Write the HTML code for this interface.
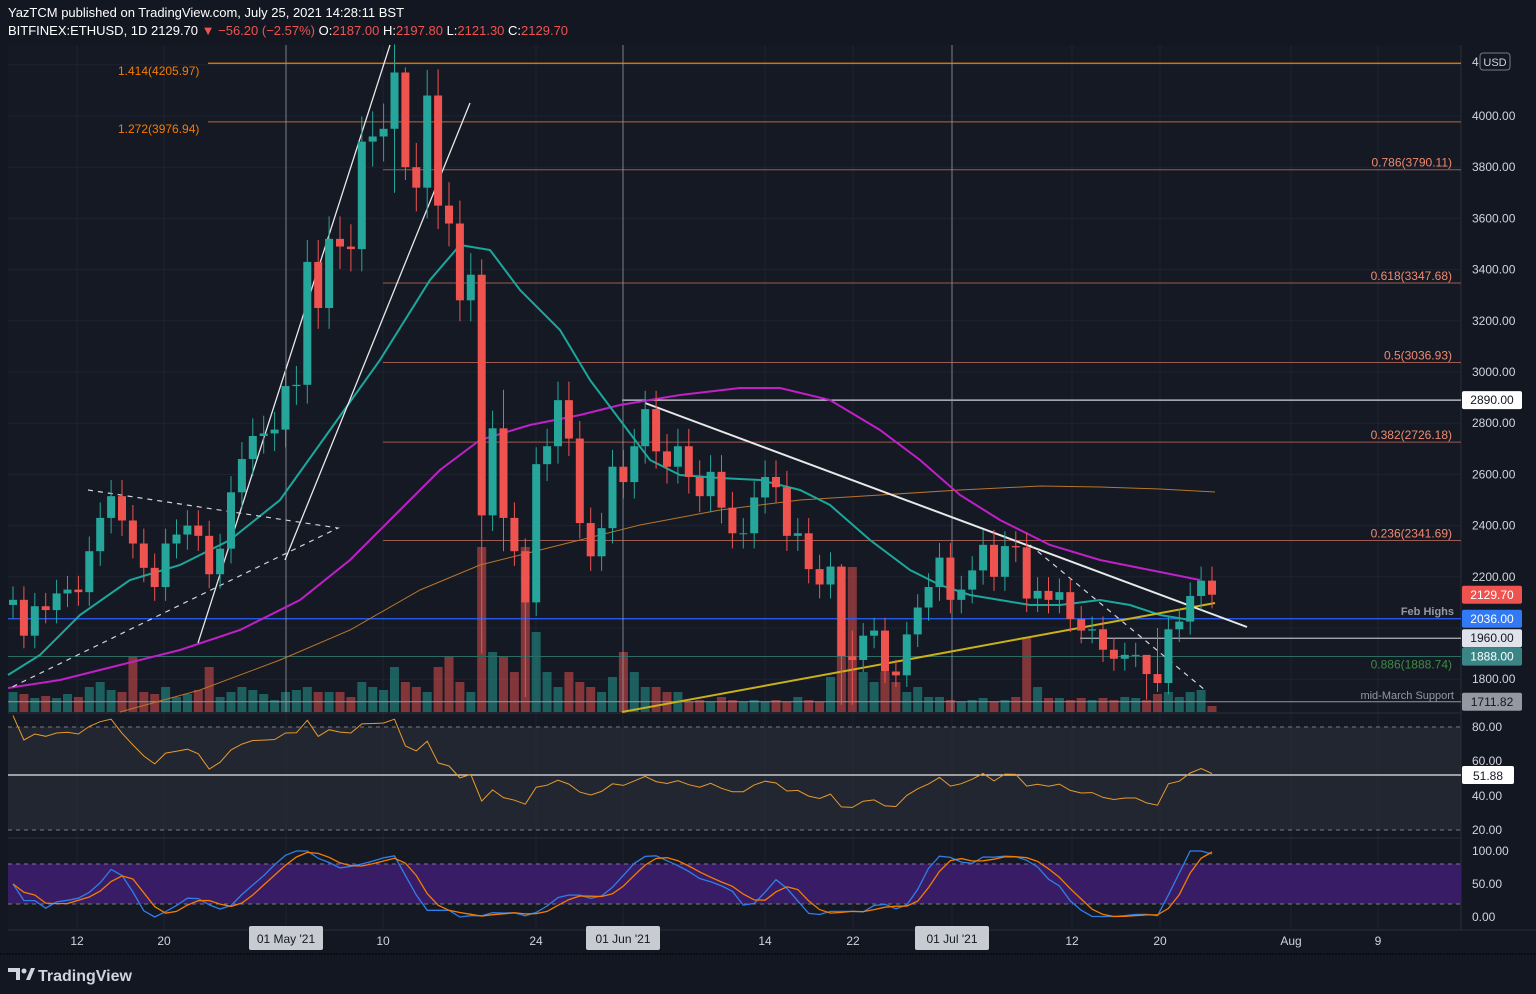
<!DOCTYPE html>
<html><head><meta charset="utf-8">
<style>
html,body{margin:0;padding:0;background:#131722;width:1536px;height:994px;overflow:hidden}
svg{display:block;font-family:"Liberation Sans",sans-serif}
</style></head><body>
<svg id="s" width="1536" height="994" xmlns="http://www.w3.org/2000/svg"></svg>
<script>
const S=document.getElementById('s');let h='';
const add=t=>h+=t;
const py=p=>116+(4000-p)*0.256;
const xd=d=>13+d*10.9;
// background
add('<rect width="1536" height="994" fill="#131722"/>');
add('<rect x="0" y="0" width="1536" height="44" fill="#131722"/>');
add('<rect x="8" y="45" width="1453" height="885" fill="#151924"/>');
// grid
for(let p=1800;p<=4200;p+=200){add(`<line x1="8" x2="1461" y1="${py(p)}" y2="${py(p)}" stroke="#1f2330"/>`)}
[77,164,286,383,536,623,765,853,952,1072,1160,1291,1378].forEach(x=>add(`<line x1="${x}" x2="${x}" y1="45" y2="930" stroke="#1f2330"/>`));
// pane separators
add('<line x1="8" x2="1461" y1="713" y2="713" stroke="#2a2e39"/><line x1="8" x2="1461" y1="838" y2="838" stroke="#2a2e39"/>');
add('<line x1="1461" x2="1461" y1="45" y2="930" stroke="#2a2e39"/><line x1="8" x2="1536" y1="930" y2="930" stroke="#2a2e39"/>');
// data
const pre=[1590,1580,1700,1715,1690,1815,1845,1920,1975,2140,2080,2090,2110];
const C=[2110,1970,2085,2070,2135,2150,2140,2300,2430,2515,2420,2330,2235,2160,2330,2365,2400,2360,2210,2310,2530,2660,2750,2760,2775,2945,2950,3430,3250,3520,3490,3480,3900,3920,3950,4170,3800,3720,4080,3650,3580,3280,3380,2440,2780,2430,2300,2100,2640,2710,2890,2740,2410,2280,2390,2630,2570,2710,2855,2690,2630,2710,2590,2515,2610,2470,2370,2370,2510,2590,2550,2360,2370,2230,2170,2240,1890,1875,1970,1990,1830,1815,1975,2080,2160,2275,2110,2150,2225,2325,2200,2320,2315,2115,2145,2110,2140,2035,1990,1995,1915,1880,1895,1895,1820,1785,1995,2025,2125,2185,2130];
const special={43:[3440,1900],47:[2350,1730],35:[4280,3700],36:[4190,3750],76:[2250,1700],77:[1990,1700],104:[1850,1720],105:[2000,1750],38:[4180,3600],45:[2930,2300]};
const vol=[20,18,14,16,14,18,15,25,30,22,20,55,20,18,25,15,18,22,45,15,20,25,22,18,12,20,22,25,20,20,20,15,30,25,22,45,30,25,20,45,55,30,20,165,60,55,40,165,80,40,25,40,30,25,20,35,60,40,25,25,20,20,10,12,10,15,12,10,12,10,12,10,15,12,10,35,145,145,40,30,40,30,20,25,15,15,12,10,12,14,10,12,15,75,25,14,14,12,14,12,14,12,15,14,12,18,20,15,20,22,6];
let all=pre.concat(C);
// volume
C.forEach((c,i)=>{const o=i?C[i-1]:2110;const up=c>=o;const v=vol[i]||12;add(`<rect x="${xd(i)-4.5}" y="${712-v}" width="9" height="${v}" fill="${up?'#26a69a':'#ef5350'}" opacity="0.5"/>`)});
// horizontal levels
const hl=(p,x1,col,w,dash)=>add(`<line x1="${x1}" x2="1461" y1="${py(p)}" y2="${py(p)}" stroke="${col}" stroke-width="${w||1}" ${dash?'stroke-dasharray="'+dash+'"':''}/>`);
hl(4205.97,208,'#f57c00',1.2);hl(3976.94,208,'#b86a3a');
[3790.11,3347.68,3036.93,2726.18,2341.69].forEach(p=>hl(p,383,'#9c5a50'));
hl(1888.74,8,'#2e6b62');hl(2890,622,'#d1d4dc',1.3);hl(1960,1080,'#b2b5be',1.2);hl(2036,8,'#2962ff',1.2);hl(1711.82,8,'#9598a1',1);
// verticals
[286,623,952].forEach(x=>add(`<line x1="${x}" x2="${x}" y1="45" y2="712" stroke="#9598a1" stroke-width="0.8"/>`));
// MAs
const pl=(pts,col,w,extra)=>add(`<polyline fill="none" stroke="${col}" stroke-width="${w}" ${extra||''} points="${pts.map(p=>p.join(',')).join(' ')}"/>`);
pl([[120,712],[200,690],[280,660],[350,630],[420,590],[480,565],[560,545],[640,525],[720,510],[800,500],[880,495],[960,490],[1040,486],[1100,487],[1160,489],[1215,492]],'#b8752a',1);
pl([[8,688],[60,680],[120,665],[180,650],[240,630],[300,600],[350,560],[400,510],[440,470],[480,440],[530,425],[580,415],[620,405],[680,395],[740,388],[780,388],[830,400],[880,430],[920,460],[960,495],[1000,520],[1050,545],[1100,560],[1150,570],[1200,580]],'#c020c8',2);
pl([[8,675],[40,655],[80,615],[130,580],[180,565],[230,540],[280,500],[330,430],[380,360],[430,280],[460,245],[490,250],[520,290],[560,330],[590,380],[620,420],[650,460],[680,475],[720,478],[760,480],[800,490],[830,505],[870,540],[910,570],[940,585],[970,595],[1000,600],[1030,605],[1060,605],[1100,600],[1130,605],[1160,615],[1190,620]],'#1ba89c',2);
// trend lines
add('<line x1="622" y1="712" x2="1215" y2="603" stroke="#c9b11a" stroke-width="2"/>');
add('<line x1="645" y1="403" x2="1247" y2="627" stroke="#e8e8e8" stroke-width="2"/>');
add('<line x1="1030" y1="545" x2="1205" y2="690" stroke="#d1d4dc" stroke-width="1.2" stroke-dasharray="5,5"/>');
add('<line x1="198" y1="643" x2="390" y2="45" stroke="#e8e8e8" stroke-width="1.3"/>');
add('<line x1="285" y1="560" x2="470" y2="103" stroke="#e8e8e8" stroke-width="1.3"/>');
add('<polyline fill="none" points="88,490 338,528 10,688" stroke="#d1d4dc" stroke-width="1.2" stroke-dasharray="5,5"/>');
// candles
C.forEach((c,i)=>{const o=i?C[i-1]:2090;const up=c>=o;const col=up?'#26a69a':'#ef5350';
let hi=Math.max(o,c)*1.025,lo=Math.min(o,c)*0.975;if(special[i]){hi=special[i][0];lo=special[i][1];}
const x=xd(i);add(`<line x1="${x}" x2="${x}" y1="${py(hi)}" y2="${py(lo)}" stroke="${col}"/>`);
const y1=py(Math.max(o,c)),y2=py(Math.min(o,c));add(`<rect x="${x-4}" y="${y1}" width="8" height="${Math.max(1,y2-y1)}" fill="${col}"/>`)});
// RSI
const rs=[];let ag=0,al=0;
for(let i=1;i<all.length;i++){const ch=all[i]-all[i-1];const g=Math.max(ch,0),l=Math.max(-ch,0);
if(i<=12){ag+=g/12;al+=l/12;rs.push(null);continue}
ag=(ag*13+g)/14;al=(al*13+l)/14;rs.push(100-100/(1+ag/al));}
const off=pre.length;
add('<rect x="8" y="727" width="1453" height="103" fill="#2a2e39" opacity="0.6"/>');
add('<line x1="8" x2="1461" y1="727" y2="727" stroke="#787b86" stroke-dasharray="4,4"/><line x1="8" x2="1461" y1="830" y2="830" stroke="#787b86" stroke-dasharray="4,4"/>');
add('<line x1="8" x2="1461" y1="775" y2="775" stroke="#e8e8e8" stroke-width="1.2"/>');
let rp=[];C.forEach((c,i)=>{const r=rs[i+off-1];if(r!=null&&xd(i)>=8)rp.push([xd(i),(727+(80-r)*1.717).toFixed(1)])});
pl(rp,'#e89a2c',1);
// Stoch RSI
const rAll=rs.filter(v=>v!=null);const st=[];
for(let i=0;i<rAll.length;i++){const w=rAll.slice(Math.max(0,i-13),i+1);const mn=Math.min(...w),mx=Math.max(...w);st.push(mx>mn?(rAll[i]-mn)/(mx-mn)*100:50)}
const sm=a=>a.map((v,i)=>{const w=a.slice(Math.max(0,i-2),i+1);return w.reduce((p,q)=>p+q,0)/w.length});
const K=sm(st),D=sm(K);const base=rs.length-rAll.length;
add('<rect x="8" y="864" width="1453" height="40" fill="#3d1d6e" opacity="0.9"/>');
add('<line x1="8" x2="1461" y1="864" y2="864" stroke="#787b86" stroke-dasharray="4,4"/><line x1="8" x2="1461" y1="904" y2="904" stroke="#787b86" stroke-dasharray="4,4"/>');
let kp=[],dp=[];C.forEach((c,i)=>{const j=i+off-1-base;if(j>=0&&xd(i)>=8){kp.push([xd(i),(917-K[j]*0.66).toFixed(1)]);dp.push([xd(i),(917-D[j]*0.66).toFixed(1)])}});
pl(kp,'#2f7fe8',1.3);pl(dp,'#f57c00',1.3);
// fib labels
const tl=(x,y,t,col,sz,anchor,wt)=>add(`<text x="${x}" y="${y}" fill="${col}" font-size="${sz||12}" ${anchor?'text-anchor="'+anchor+'"':''} ${wt?'font-weight="'+wt+'"':''}>${t}</text>`);
tl(118,75,'1.414(4205.97)','#f57c00');tl(118,133,'1.272(3976.94)','#f57c00');
[[3790.11,'0.786(3790.11)'],[3347.68,'0.618(3347.68)'],[3036.93,'0.5(3036.93)'],[2726.18,'0.382(2726.18)'],[2341.69,'0.236(2341.69)']].forEach(a=>tl(1452,py(a[0])-3,a[1],'#ef8a70',12,'end'));
tl(1452,py(1888.74)+12,'0.886(1888.74)','#3f8a45',12,'end');
tl(1454,615,'Feb Highs','#9598a1',11,'end','bold');tl(1454,699,'mid-March Support','#9598a1',11,'end');
// price axis
for(let p=1800;p<=4000;p+=200){if(p==2000)continue;tl(1472,py(p)+4,p.toFixed(2),'#d1d4dc',12)}
tl(1472,66,'4','#d1d4dc',12);
add('<rect x="1480" y="53" width="30" height="17" rx="3" fill="#131722" stroke="#787b86"/>');tl(1495,66,'USD','#d1d4dc',11,'middle');
const box=(p,t,bg,fg)=>{const y=py(p);add(`<rect x="1462" y="${y-9}" width="60" height="18" rx="2" fill="${bg}"/>`);tl(1492,y+4,t,fg,12,'middle')};
box(2890,'2890.00','#ffffff','#131722');box(2129.7,'2129.70','#ef5350','#ffffff');box(2036,'2036.00','#3179f5','#ffffff');box(1960,'1960.00','#e0e3eb','#131722');box(1888,'1888.00','#3c8587','#ffffff');box(1711.82,'1711.82','#9598a1','#131722');
// RSI/stoch axis
[[80,727],[60,761],[40,796],[20,830]].forEach(a=>tl(1472,a[1]+4,a[0].toFixed(2),'#d1d4dc',12));
add('<rect x="1462" y="766" width="52" height="18" rx="2" fill="#ffffff"/>');tl(1488,780,'51.88','#131722',12,'middle');
[[100,851],[50,884],[0,917]].forEach(a=>tl(1472,a[1]+4,a[0].toFixed(2),'#d1d4dc',12));
// x axis
[[77,'12'],[164,'20'],[383,'10'],[536,'24'],[765,'14'],[853,'22'],[1072,'12'],[1160,'20'],[1291,'Aug'],[1378,'9']].forEach(a=>tl(a[0],945,a[1],'#d1d4dc',12,'middle'));
[[286,"01 May '21"],[623,"01 Jun '21"],[952,"01 Jul '21"]].forEach(a=>{add(`<rect x="${a[0]-37}" y="926" width="74" height="24" rx="2" fill="#c8cbd2"/>`);tl(a[0],943,a[1],'#131722',12,'middle')});
add('<line x1="0" x2="1536" y1="954" y2="954" stroke="#000" stroke-dasharray="2,1"/>');
// header
tl(8,17,'YazTCM published on TradingView.com, July 25, 2021 14:28:11 BST','#ffffff',13);
add(`<text x="8" y="35" font-size="13" fill="#ffffff">BITFINEX:ETHUSD, 1D <tspan fill="#ffffff">2129.70</tspan> <tspan fill="#ef5350">▼ −56.20 (−2.57%)</tspan> O:<tspan fill="#ef5350">2187.00</tspan> H:<tspan fill="#ef5350">2197.80</tspan> L:<tspan fill="#ef5350">2121.30</tspan> C:<tspan fill="#ef5350">2129.70</tspan></text>`);
// footer logo
add('<path d="M8,968 h12 v12 h-4 v-8 h-8z" fill="#d1d4dc"/><circle cx="24" cy="971" r="2.5" fill="#d1d4dc"/><path d="M26,980 l5,-12 h4 l-5,12z" fill="#d1d4dc"/>');
tl(38,981,'TradingView','#d1d4dc',16,null,'bold');
S.innerHTML=h;
</script>
</body></html>
